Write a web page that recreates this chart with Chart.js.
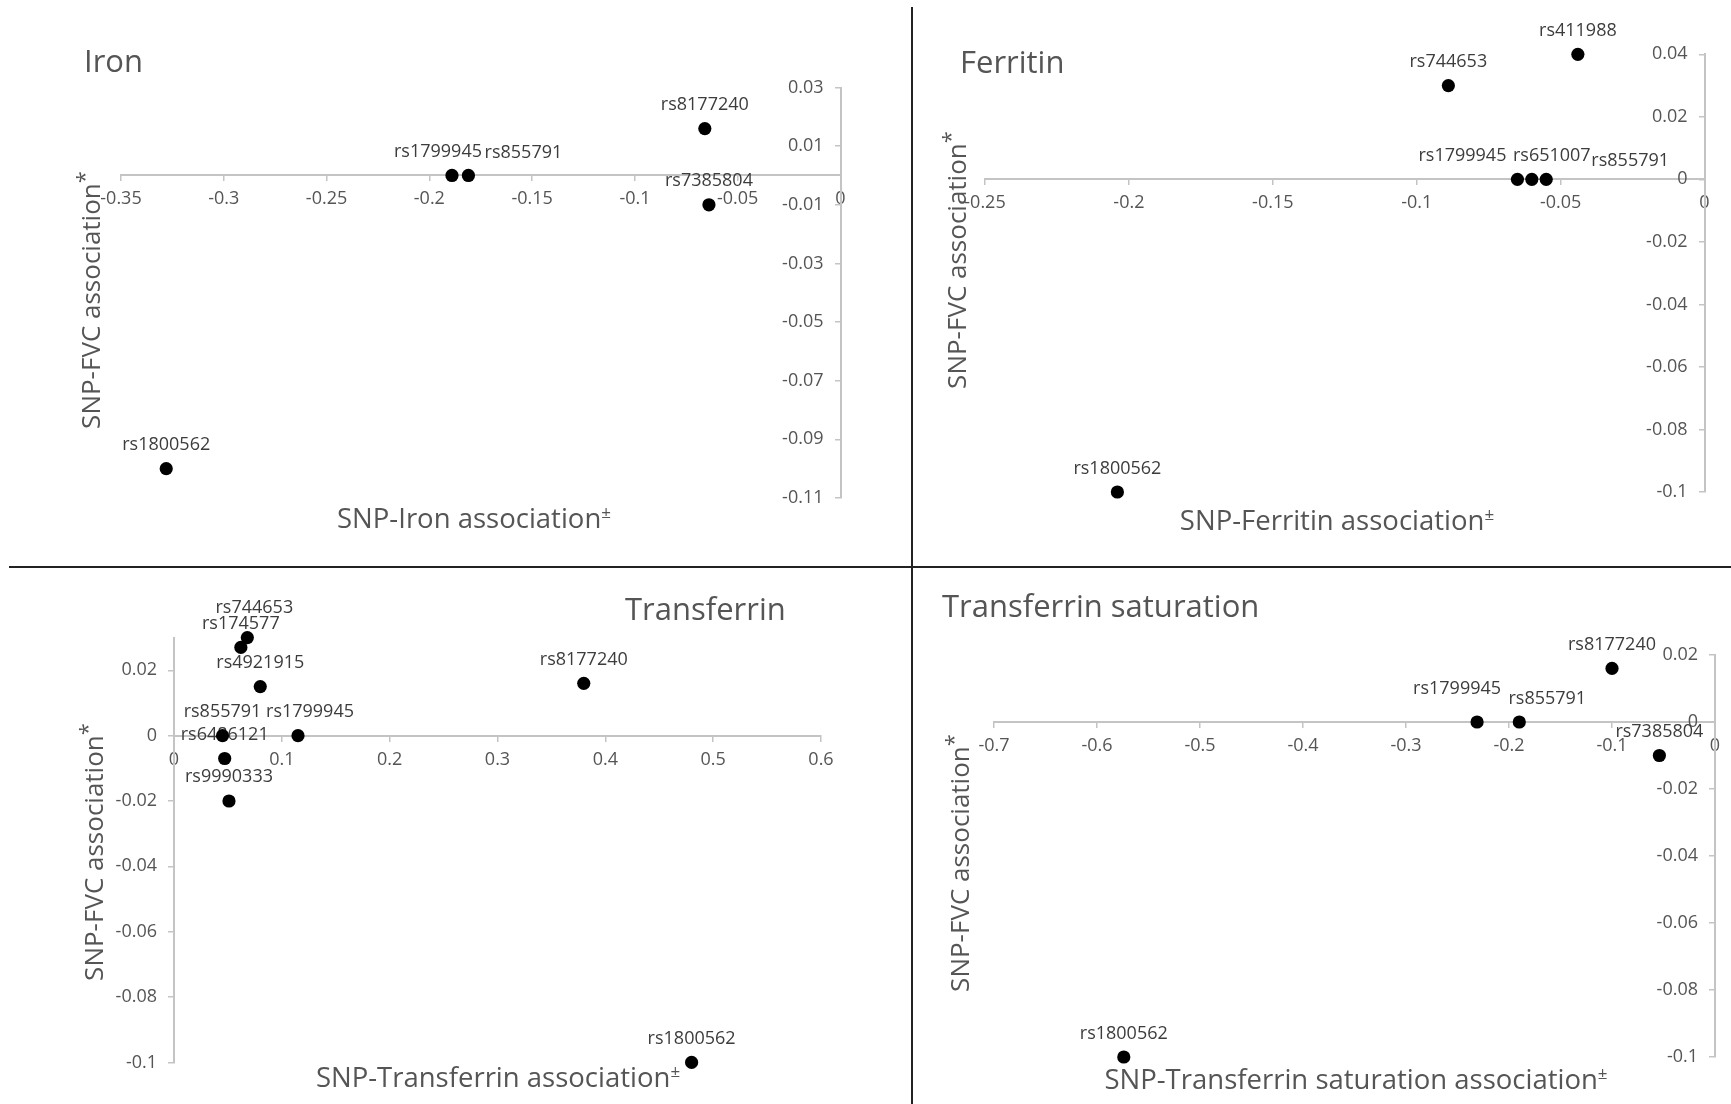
<!DOCTYPE html>
<html>
<head>
<meta charset="utf-8">
<script src="https://cdn.jsdelivr.net/npm/chart.js@4.4.1/dist/chart.umd.min.js"></script>
<style>
  html, body { margin: 0; padding: 0; background: #fff; }
  #page { position: relative; width: 1731px; height: 1104px; overflow: hidden; background: #fff; }
  #page canvas { position: absolute; left: 0; top: 0; width: 1731px; height: 1104px; }
  .rule { position: absolute; background: #222; }
</style>
</head>
<body>
<div id="page">
  <canvas id="iron" width="1731" height="1104"></canvas>
  <canvas id="ferritin" width="1731" height="1104"></canvas>
  <canvas id="transferrin" width="1731" height="1104"></canvas>
  <canvas id="tsat" width="1731" height="1104"></canvas>
  <div class="rule" style="left:911px;top:7px;width:2px;height:1097px"></div>
  <div class="rule" style="left:9px;top:566px;width:1722px;height:2px"></div>
</div>
<script>
// ---- Iron ----
const ironSnps = ['rs8177240', 'rs1799945', 'rs855791', 'rs7385804', 'rs1800562'];
const ironX = [-0.066, -0.189, -0.181, -0.064, -0.328];
const ironY = [0.016, 0, 0, -0.010, -0.100];
const ironXTicks = ['-0.35', '-0.3', '-0.25', '-0.2', '-0.15', '-0.1', '-0.05', '0'];
const ironYTicks = ['0.03', '0.01', '-0.01', '-0.03', '-0.05', '-0.07', '-0.09', '-0.11'];
const ironXRange = [-0.35, 0];
const ironYRange = [-0.11, 0.03];

// ---- Ferritin ----
const ferritinSnps = ['rs411988', 'rs744653', 'rs1799945', 'rs651007', 'rs855791', 'rs1800562'];
const ferritinX = [-0.044, -0.089, -0.065, -0.060, -0.055, -0.204];
const ferritinY = [0.040, 0.030, 0, 0, 0, -0.100];
const ferritinXTicks = ['-0.25', '-0.2', '-0.15', '-0.1', '-0.05', '0'];
const ferritinYTicks = ['0.04', '0.02', '0', '-0.02', '-0.04', '-0.06', '-0.08', '-0.1'];
const ferritinXRange = [-0.25, 0];
const ferritinYRange = [-0.1, 0.04];

// ---- Transferrin ----
const transferrinSnps = ['rs744653', 'rs174577', 'rs4921915', 'rs8177240', 'rs855791', 'rs1799945', 'rs6486121', 'rs9990333', 'rs1800562'];
const transferrinX = [0.068, 0.062, 0.080, 0.380, 0.045, 0.115, 0.047, 0.051, 0.480];
const transferrinY = [0.030, 0.027, 0.015, 0.016, 0, 0, -0.007, -0.020, -0.100];
const transferrinXTicks = ['0', '0.1', '0.2', '0.3', '0.4', '0.5', '0.6'];
const transferrinYTicks = ['0.02', '0', '-0.02', '-0.04', '-0.06', '-0.08', '-0.1'];
const transferrinXRange = [0, 0.6];
const transferrinYRange = [-0.1, 0.03];

// ---- Transferrin saturation ----
const tsatSnps = ['rs8177240', 'rs1799945', 'rs855791', 'rs7385804', 'rs1800562'];
const tsatX = [-0.100, -0.231, -0.190, -0.054, -0.574];
const tsatY = [0.016, 0, 0, -0.010, -0.100];
const tsatXTicks = ['-0.7', '-0.6', '-0.5', '-0.4', '-0.3', '-0.2', '-0.1', '0'];
const tsatYTicks = ['0.02', '0', '-0.02', '-0.04', '-0.06', '-0.08', '-0.1'];
const tsatXRange = [-0.7, 0];
const tsatYRange = [-0.1, 0.02];

// ---- shared styling ----
const FONT = "'Open Sans', 'DejaVu Sans', sans-serif";
const TEXT_GREY = '#555555';
const LABEL_GREY = '#3c3c3c';
const AXIS_GREY = '#c4c4c4';

function drawWithSuperscript(ctx, main, sup, cx, baseline, size, supSize, rise) {
  ctx.font = size + 'px ' + FONT;
  const w1 = ctx.measureText(main).width;
  ctx.font = supSize + 'px ' + FONT;
  const w2 = ctx.measureText(sup).width;
  const left = cx - (w1 + w2) / 2;
  ctx.textAlign = 'left';
  ctx.textBaseline = 'alphabetic';
  ctx.font = size + 'px ' + FONT;
  ctx.fillText(main, left, baseline);
  ctx.font = supSize + 'px ' + FONT;
  ctx.fillText(sup, left + w1, baseline - rise);
}

// Panel heading plus the two axis titles
const panelText = {
  id: 'panelText',
  afterDraw(chart, args, o) {
    const ctx = chart.ctx;
    ctx.save();
    ctx.fillStyle = TEXT_GREY;
    ctx.font = '31px ' + FONT;
    ctx.textAlign = 'left';
    ctx.textBaseline = 'alphabetic';
    ctx.fillText(o.heading, o.headingAt[0], o.headingAt[1]);
    drawWithSuperscript(ctx, o.xTitle, '\u00B1', o.xTitleAt[0], o.xTitleAt[1], 27.5, 17, 10);
    ctx.translate(o.yTitleAt[0], o.yTitleAt[1]);
    ctx.rotate(-Math.PI / 2);
    drawWithSuperscript(ctx, o.yTitle, '*', 0, 0, 26, 22, 8);
    ctx.restore();
  }
};

// SNP name above each marker
const pointNames = {
  id: 'pointNames',
  beforeDatasetsDraw(chart, args, o) {
    const ctx = chart.ctx;
    const meta = chart.getDatasetMeta(0);
    ctx.save();
    ctx.font = '18px ' + FONT;
    ctx.fillStyle = LABEL_GREY;
    ctx.textAlign = 'center';
    ctx.textBaseline = 'alphabetic';
    meta.data.forEach((pt, i) => {
      const name = o.names[i];
      const nudge = o.nudges[name] || [0, 0];
      ctx.fillText(name, pt.x + nudge[0], pt.y - o.lift + nudge[1]);
    });
    ctx.restore();
  }
};

// A value-positioned y axis puts its labels flush against the line;
// move them left so they clear the tick marks.
const yLabelGap = {
  id: 'yLabelGap',
  beforeDraw(chart, args, o) {
    const items = chart.scales.y.getLabelItems();
    if (items._moved) return;
    items.forEach(it => { it.options.translation[0] -= o.gap; });
    items._moved = true;
  }
};

function axisOptions(range, tickLabels, position, padding) {
  return {
    type: 'linear',
    min: range[0],
    max: range[1],
    position: position,
    offset: false,
    afterBuildTicks: (scale) => {
      scale.ticks = tickLabels.map(t => ({ value: Number(t) }));
    },
    ticks: {
      autoSkip: false,
      maxRotation: 0,
      padding: padding,
      color: TEXT_GREY,
      font: { family: FONT, size: 18 },
      callback: (value) => {
        const hit = tickLabels.find(t => Number(t) === value);
        return hit === undefined ? '' : hit;
      }
    },
    grid: {
      drawOnChartArea: false,
      drawTicks: true,
      tickLength: 5,
      color: AXIS_GREY,
      lineWidth: 1.5
    },
    border: { display: true, color: AXIS_GREY, width: 2 }
  };
}

function drawPanel(id, p) {
  new Chart(document.getElementById(id), {
    type: 'scatter',
    data: {
      datasets: [{
        data: p.snps.map((s, i) => ({ x: p.x[i], y: p.y[i] })),
        backgroundColor: '#000',
        borderWidth: 0,
        pointRadius: 6.6,
        pointHoverRadius: 6.6,
        clip: false
      }]
    },
    options: {
      responsive: false,
      animation: false,
      devicePixelRatio: 1,
      events: [],
      layout: { padding: p.area },
      plugins: {
        legend: { display: false },
        tooltip: { enabled: false },
        panelText: p.text,
        pointNames: { names: p.snps, nudges: p.nudges, lift: 18.5 },
        yLabelGap: { gap: 17 }
      },
      scales: {
        x: axisOptions(p.xRange, p.xTicks, { y: 0 }, 8),
        y: axisOptions(p.yRange, p.yTicks, { x: 0 }, 12)
      }
    },
    plugins: [yLabelGap, panelText, pointNames]
  });
}

drawPanel('iron', {
  snps: ironSnps, x: ironX, y: ironY,
  xTicks: ironXTicks, yTicks: ironYTicks, xRange: ironXRange, yRange: ironYRange,
  area: { left: 121, top: 87.5, right: 890.5, bottom: 606 },
  nudges: { rs1799945: [-14, 0], rs855791: [55, 1] },
  text: {
    heading: 'Iron', headingAt: [84, 72],
    xTitle: 'SNP-Iron association', xTitleAt: [474, 528],
    yTitle: 'SNP-FVC association', yTitleAt: [100, 300]
  }
});

drawPanel('ferritin', {
  snps: ferritinSnps, x: ferritinX, y: ferritinY,
  xTicks: ferritinXTicks, yTicks: ferritinYTicks, xRange: ferritinXRange, yRange: ferritinYRange,
  area: { left: 985, top: 54.3, right: 26.5, bottom: 612 },
  nudges: { rs1799945: [-55, 0], rs651007: [20, 0], rs855791: [84, 5] },
  text: {
    heading: 'Ferritin', headingAt: [960, 73],
    xTitle: 'SNP-Ferritin association', xTitleAt: [1337, 530],
    yTitle: 'SNP-FVC association', yTitleAt: [966, 260]
  }
});

drawPanel('transferrin', {
  snps: transferrinSnps, x: transferrinX, y: transferrinY,
  xTicks: transferrinXTicks, yTicks: transferrinYTicks, xRange: transferrinXRange, yRange: transferrinYRange,
  area: { left: 174, top: 637.6, right: 910, bottom: 41.6 },
  nudges: { rs744653: [7, -6], rs1799945: [12, 0] },
  text: {
    heading: 'Transferrin', headingAt: [625, 620],
    xTitle: 'SNP-Transferrin association', xTitleAt: [498, 1087],
    yTitle: 'SNP-FVC association', yTitleAt: [103, 852]
  }
});

drawPanel('tsat', {
  snps: tsatSnps, x: tsatX, y: tsatY,
  xTicks: tsatXTicks, yTicks: tsatYTicks, xRange: tsatXRange, yRange: tsatYRange,
  area: { left: 994, top: 655, right: 16, bottom: 47 },
  nudges: { rs1799945: [-20, -10], rs855791: [28, 0] },
  text: {
    heading: 'Transferrin saturation', headingAt: [942, 617],
    xTitle: 'SNP-Transferrin saturation association', xTitleAt: [1356, 1089],
    yTitle: 'SNP-FVC association', yTitleAt: [969, 863]
  }
});
</script>
</body>
</html>
